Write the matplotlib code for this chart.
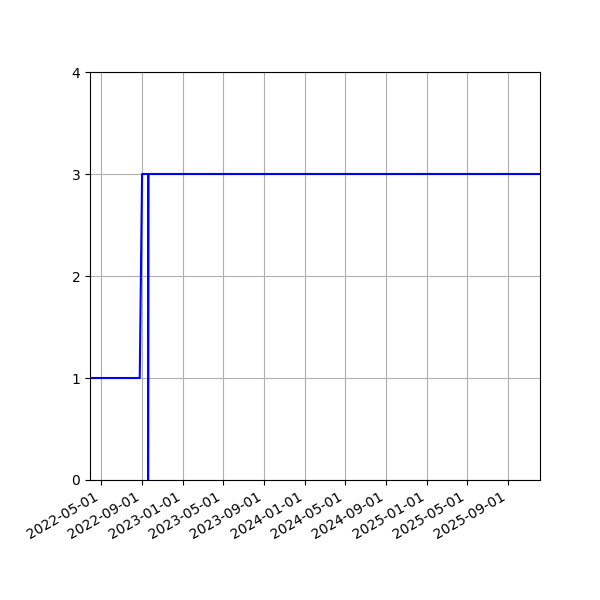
import numpy as np
import pandas as pd
import matplotlib
matplotlib.use("Agg")
import matplotlib.pyplot as plt
import matplotlib.dates as mdates

# step history of the level value
dates = pd.to_datetime(["2022-03-29", "2022-08-25", "2022-09-01",
                        "2022-09-19", "2022-09-19", "2022-09-20",
                        "2025-12-06"])
values = [1, 1, 3, 3, 0, 3, 3]

fig, ax = plt.subplots(figsize=(6, 6), dpi=100)
ax.plot(dates, values, color="blue")
ax.grid()
ax.set_ylim(0, 4)
ax.set_yticks([0, 1, 2, 3, 4])
ax.set_xlim(dates[0], dates[-1])
ax.xaxis.set_major_locator(mdates.MonthLocator(bymonth=[1, 5, 9]))
ax.xaxis.set_major_formatter(mdates.DateFormatter("%Y-%m-%d"))
fig.autofmt_xdate()
fig.subplots_adjust(left=0.15, right=0.9, top=0.88, bottom=0.2)
fig.savefig("out.png")
